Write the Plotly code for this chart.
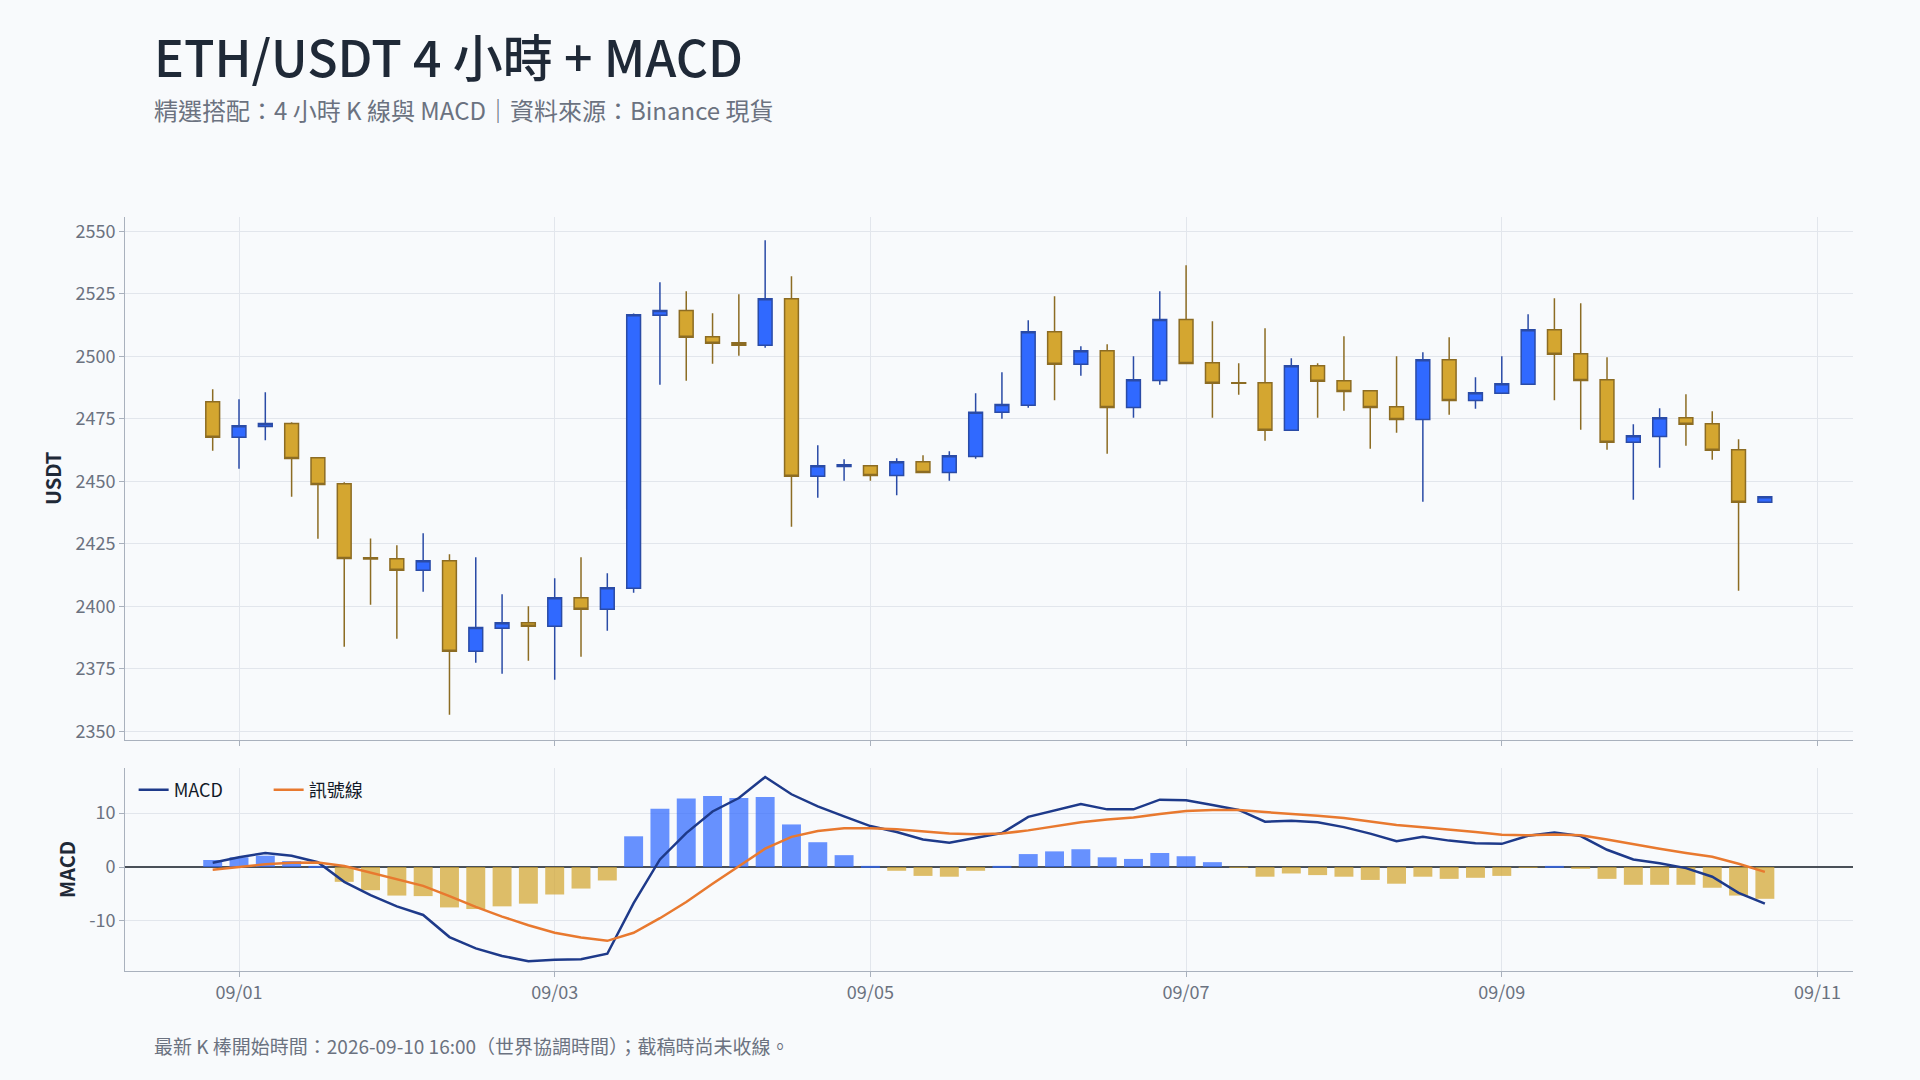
import pandas as pd
import plotly.graph_objects as go
from plotly.subplots import make_subplots

# ---- data ----
times = pd.date_range("2026-08-31 20:00", periods=60, freq="4h")

opens = [2481.9, 2467.7, 2472.0, 2473.2, 2459.5, 2449.1, 2419.5, 2419.1, 2414.5, 2418.3,
         2382.1, 2391.3, 2393.5, 2392.1, 2403.5, 2398.9, 2407.3, 2516.5, 2518.4, 2507.9,
         2505.5, 2504.5, 2523.1, 2452.1, 2456.0, 2456.3, 2452.4, 2457.9, 2453.6, 2460.0,
         2477.7, 2480.5, 2509.9, 2496.9, 2502.3, 2479.6, 2490.4, 2514.8, 2497.5, 2489.5,
         2489.5, 2470.5, 2496.3, 2490.3, 2486.3, 2479.9, 2474.8, 2498.7, 2482.4, 2485.3,
         2488.9, 2510.7, 2501.1, 2490.7, 2465.7, 2468.0, 2475.5, 2473.1, 2462.7, 2441.7]
highs = [2486.9, 2482.9, 2485.7, 2473.7, 2459.5, 2449.7, 2427.2, 2424.5, 2429.3, 2420.9,
         2419.7, 2404.9, 2400.1, 2411.3, 2419.7, 2413.3, 2517.2, 2529.7, 2526.1, 2517.3,
         2524.9, 2546.5, 2532.1, 2464.5, 2458.9, 2456.3, 2459.3, 2460.5, 2462.1, 2485.3,
         2493.7, 2514.5, 2524.1, 2504.1, 2504.9, 2500.1, 2526.1, 2536.5, 2514.1, 2497.3,
         2511.3, 2499.3, 2497.3, 2508.1, 2486.3, 2500.1, 2501.7, 2507.7, 2491.7, 2500.1,
         2516.9, 2523.3, 2521.3, 2499.7, 2472.9, 2479.3, 2484.9, 2478.1, 2466.9, 2443.9]
lows = [2462.3, 2455.1, 2466.5, 2443.9, 2427.1, 2383.9, 2400.7, 2387.1, 2405.9, 2356.7,
        2377.5, 2373.1, 2378.3, 2370.7, 2379.9, 2390.3, 2405.5, 2488.7, 2490.3, 2497.1,
        2500.3, 2503.5, 2431.9, 2443.5, 2450.3, 2450.3, 2444.5, 2453.6, 2450.3, 2459.1,
        2475.1, 2479.5, 2482.5, 2492.3, 2461.1, 2475.5, 2488.7, 2497.2, 2475.5, 2484.7,
        2466.3, 2470.5, 2475.5, 2478.3, 2463.1, 2469.5, 2441.9, 2476.7, 2479.1, 2485.3,
        2488.9, 2482.5, 2470.7, 2462.7, 2442.7, 2455.5, 2464.3, 2458.7, 2406.3, 2441.7]
closes = [2467.7, 2472.3, 2473.2, 2459.2, 2448.8, 2419.2, 2419.0, 2414.5, 2418.3, 2382.1,
          2391.6, 2393.5, 2392.1, 2403.5, 2398.9, 2407.5, 2516.7, 2518.4, 2507.7, 2505.3,
          2504.5, 2523.1, 2452.1, 2456.3, 2456.7, 2452.4, 2457.9, 2453.6, 2460.3, 2477.7,
          2480.8, 2509.9, 2496.9, 2502.3, 2479.6, 2490.7, 2514.8, 2497.2, 2489.3, 2489.3,
          2470.5, 2496.3, 2490.1, 2486.0, 2479.6, 2474.8, 2498.7, 2482.4, 2485.5, 2489.1,
          2510.7, 2500.9, 2490.4, 2465.7, 2468.3, 2475.5, 2472.9, 2462.5, 2441.7, 2443.9]

macd = [0.8, 1.8, 2.6, 2.1, 0.9, -2.75, -5.2, -7.3, -8.9, -13.0,
        -15.1, -16.5, -17.5, -17.2, -17.1, -16.1, -6.7, 1.4, 6.3, 10.3,
        12.8, 16.7, 13.5, 11.25, 9.4, 7.6, 6.5, 5.1, 4.5, 5.4,
        6.3, 9.3, 10.5, 11.7, 10.7, 10.7, 12.5, 12.4, 11.5, 10.6,
        8.4, 8.6, 8.3, 7.4, 6.2, 4.8, 5.6, 4.9, 4.4, 4.3,
        5.8, 6.4, 5.75, 3.2, 1.4, 0.7, -0.2, -1.8, -4.8, -6.8]
signal = [-0.5, 0.0, 0.5, 0.8, 0.85, 0.2, -1.0, -2.3, -3.5, -5.4,
          -7.4, -9.2, -10.8, -12.2, -13.1, -13.7, -12.2, -9.5, -6.5, -3.1,
          0.2, 3.4, 5.6, 6.7, 7.2, 7.2, 7.0, 6.6, 6.2, 6.1,
          6.2, 6.8, 7.5, 8.3, 8.8, 9.2, 9.85, 10.4, 10.6, 10.6,
          10.2, 9.9, 9.5, 9.1, 8.5, 7.8, 7.4, 7.0, 6.5, 6.0,
          5.9, 6.05, 5.9, 5.1, 4.2, 3.4, 2.6, 1.9, 0.6, -0.9]
hist = [1.3, 1.8, 2.1, 1.1, 0.1, -2.75, -4.3, -5.3, -5.4, -7.5,
        -7.8, -7.3, -6.8, -5.1, -4.0, -2.5, 5.7, 10.8, 12.7, 13.2,
        12.8, 13.0, 7.9, 4.6, 2.2, 0.1, -0.7, -1.65, -1.8, -0.7,
        0.1, 2.4, 2.9, 3.3, 1.8, 1.5, 2.6, 2.0, 0.9, -0.05,
        -1.8, -1.2, -1.5, -1.8, -2.4, -3.1, -1.8, -2.2, -2.0, -1.65,
        -0.05, 0.1, -0.3, -2.2, -3.3, -3.3, -3.3, -3.85, -5.3, -5.9]

y_ticks_price = [2350, 2375, 2400, 2425, 2450, 2475, 2500, 2525, 2550]
y_ticks_macd = [-10, 0, 10]
y_ticktext_macd = ["-10", "0", "10"]
x_tick_dates = ["2026-09-01", "2026-09-03", "2026-09-05", "2026-09-07", "2026-09-09", "2026-09-11"]
x_tick_labels = ["09/01", "09/03", "09/05", "09/07", "09/09", "09/11"]

title_text = "ETH/USDT 4 小時 + MACD"
subtitle_text = "精選搭配：4 小時 K 線與 MACD｜資料來源：Binance 現貨"
footer_text = "最新 K 棒開始時間：2026-09-10 16:00（世界協調時間）；截稿時尚未收線。"

# ---- styles ----
FONT = "Noto Sans CJK TC"
BG = "#f8fafc"
UP_FILL, UP_LINE = "#3069ff", "#2a4ba6"
DN_FILL, DN_LINE = "#d4a630", "#8c6c23"
GRID = "#e2e6ec"
AXIS = "#a9b1bd"
TICKC = "#6b7280"
DARK = "#1f2937"

fig = make_subplots(rows=2, cols=1, shared_xaxes=True)

fig.add_trace(go.Candlestick(
    x=times, open=opens, high=highs, low=lows, close=closes,
    increasing=dict(line=dict(color=UP_LINE, width=1.5), fillcolor=UP_FILL),
    decreasing=dict(line=dict(color=DN_LINE, width=1.5), fillcolor=DN_FILL),
    whiskerwidth=0, showlegend=False, name="K"), row=1, col=1)

bar_colors = [UP_FILL if v >= 0 else DN_FILL for v in hist]
fig.add_trace(go.Bar(x=times, y=hist, marker=dict(color=bar_colors, line=dict(width=0)),
                     opacity=0.72, showlegend=False, name="柱狀"), row=2, col=1)
fig.add_trace(go.Scatter(x=times, y=macd, mode="lines", name="MACD",
                         line=dict(color="#1e3a8a", width=2.5)), row=2, col=1)
fig.add_trace(go.Scatter(x=times, y=signal, mode="lines", name="訊號線",
                         line=dict(color="#e8792f", width=2.5)), row=2, col=1)

xrange = ["2026-08-31 06:40", "2026-09-11 05:24"]
common_x = dict(range=xrange, showgrid=True, gridcolor=GRID, gridwidth=1,
                showline=True, linecolor=AXIS, linewidth=1, ticks="outside",
                ticklen=5, tickcolor=AXIS, tickvals=x_tick_dates, ticktext=x_tick_labels,
                tickfont=dict(family=FONT, size=18, color=TICKC), zeroline=False)

fig.update_layout(
    width=1920, height=1080,
    paper_bgcolor=BG, plot_bgcolor=BG,
    font=dict(family=FONT, size=18, color=TICKC),
    margin=dict(l=125, r=67, t=217, b=109),
    boxgap=0.25, bargap=0.28,
    xaxis=dict(common_x, showticklabels=False, rangeslider=dict(visible=False)),
    xaxis2=dict(common_x, showticklabels=True),
    yaxis=dict(domain=[0.3068, 1.0], range=[2346.7, 2555.8], tickvals=y_ticks_price,
               showgrid=True, gridcolor=GRID, showline=True, linecolor=AXIS,
               ticks="outside", ticklen=5, tickcolor=AXIS, zeroline=False,
               tickfont=dict(family=FONT, size=18, color=TICKC),
               title=dict(text="<b>USDT</b>", standoff=8,
                          font=dict(family=FONT, size=20, color=DARK))),
    yaxis2=dict(domain=[0.0, 0.2694], range=[-19.3, 18.4], tickvals=y_ticks_macd,
                ticktext=y_ticktext_macd,
                showgrid=True, gridcolor=GRID, showline=True, linecolor=AXIS,
                ticks="outside", ticklen=5, tickcolor=AXIS,
                zeroline=True, zerolinecolor="#4a5058", zerolinewidth=2,
                tickfont=dict(family=FONT, size=18, color=TICKC),
                title=dict(text="<b>MACD</b>", standoff=8,
                           font=dict(family=FONT, size=20, color=DARK))),
    legend=dict(orientation="h", x=0.005, xanchor="left", y=0.24, yanchor="middle",
                entrywidth=90, entrywidthmode="pixels",
                bgcolor="rgba(0,0,0,0)", font=dict(family=FONT, size=18, color="#111827")),
    annotations=[
        dict(text=title_text, xref="paper", yref="paper", x=0.0158, y=1.2145,
             xanchor="left", yanchor="middle", showarrow=False,
             font=dict(family=FONT, size=50, color=DARK, weight=500)),
        dict(text=subtitle_text, xref="paper", yref="paper", x=0.0158, y=1.1425,
             xanchor="left", yanchor="middle", showarrow=False,
             font=dict(family=FONT, size=24, color="#6b7280")),
        dict(text=footer_text, xref="paper", yref="paper", x=0.0158, y=-0.099,
             xanchor="left", yanchor="middle", showarrow=False,
             font=dict(family=FONT, size=19, color="#6b7280")),
    ],
)

fig.write_html("out.html", config={"displayModeBar": False},
               post_script="document.body.style.margin='0';document.body.style.background='#f8fafc';")
